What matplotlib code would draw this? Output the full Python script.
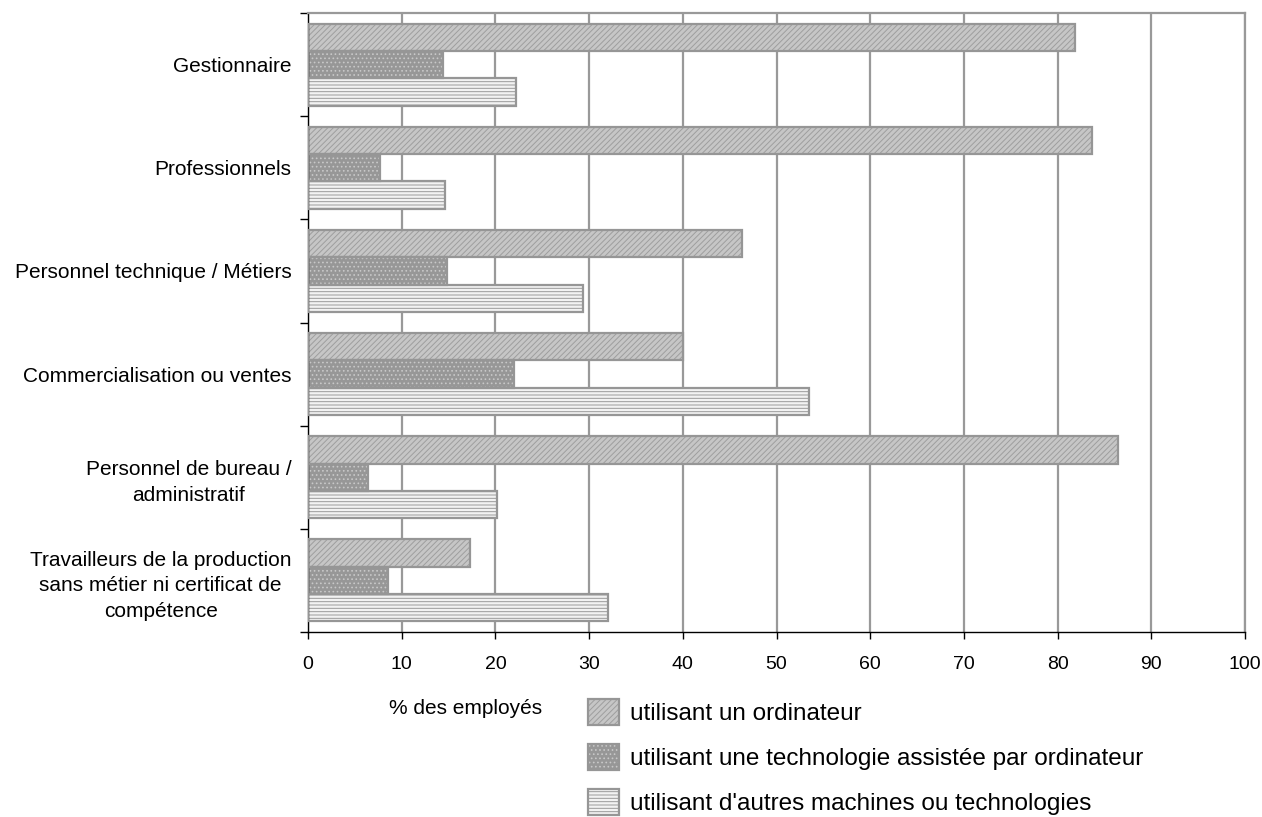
import matplotlib
matplotlib.use("Agg")
import matplotlib.pyplot as plt
from matplotlib.patches import Patch
import numpy as np

plt.rcParams['font.family'] = ['Liberation Sans', 'DejaVu Sans']
plt.rcParams['hatch.linewidth'] = 0.7

categories = [
    "Gestionnaire",
    "Professionnels",
    "Personnel technique / Métiers",
    "Commercialisation ou ventes",
    "Personnel de bureau /\nadministratif",
    "Travailleurs de la production\nsans métier ni certificat de\ncompétence",
]
ordinateur = [81.9, 83.7, 46.3, 40.0, 86.4, 17.3]
techno_assistee = [14.4, 7.7, 14.8, 22.0, 6.4, 8.5]
autres_machines = [22.2, 14.6, 29.4, 53.5, 20.2, 32.0]

series_labels = [
    "utilisant un ordinateur",
    "utilisant une technologie assistée par ordinateur",
    "utilisant d'autres machines ou technologies",
]
x_ticks = list(range(0, 101, 10))
x_label = "% des employés"

# fill, hatch pattern, hatch colour per series
styles = [
    ("#c6c6c6", "//////", "#9e9e9e"),
    ("#979797", "....", "#c8c8c8"),
    ("#f2f2f2", "-----", "#9a9a9a"),
]
edge = "#969696"
grid_c = "#999999"

fig = plt.figure(figsize=(12.62, 8.17), dpi=100)
W, H = 1262, 817
ax = fig.add_axes([308 / W, 1 - 632 / H, (1245 - 308) / W, (632 - 13) / H])

y = np.arange(len(categories))
h = 0.265
offsets = [-h, 0.0, h]
series = [ordinateur, techno_assistee, autres_machines]

ax.set_axisbelow(True)
for vals, off, (fc, hat, hc) in zip(series, offsets, styles):
    ax.barh(y + off, vals, height=h, color=fc, hatch=hat, edgecolor=hc,
            linewidth=0, zorder=2)
    ax.barh(y + off, vals, height=h, fill=False, edgecolor=edge,
            linewidth=1.6, zorder=3)

ax.set_xlim(0, 100)
ax.set_ylim(len(categories) - 0.5, -0.5)
ax.set_xticks(x_ticks)
ax.set_xticklabels([str(t) for t in x_ticks], fontsize=14)
ax.tick_params(axis='x', direction='out', length=5, width=1, pad=12, color='black')

ax.set_yticks(np.arange(-0.5, len(categories), 1.0))
ax.set_yticklabels([])
ax.tick_params(axis='y', which='major', direction='out', length=6, width=1, color='black')
ax.set_yticks(y, minor=True)
ax.set_yticklabels(categories, minor=True, fontsize=15, ha='right',
                   multialignment='center', linespacing=1.43)
ax.tick_params(axis='y', which='minor', length=0, pad=12)

ax.xaxis.grid(True, color=grid_c, linewidth=1.6)
ax.yaxis.grid(False)

for s in ("top", "right"):
    ax.spines[s].set_color(grid_c)
    ax.spines[s].set_linewidth(1.6)
for s in ("left", "bottom"):
    ax.spines[s].set_color("black")
    ax.spines[s].set_linewidth(1.0)

fig.text(466 / W, 1 - 708 / H, x_label, fontsize=15, ha='center', va='center')

handles = []
for fc, hat, hc in styles:
    handles.append((Patch(facecolor=fc, hatch=hat, edgecolor=hc, linewidth=0),
                    Patch(fill=False, edgecolor=edge, linewidth=1.6)))
fig.legend(handles, series_labels, loc='upper left',
           bbox_to_anchor=(583 / W, 1 - 694 / H), frameon=False,
           fontsize=17.5, handlelength=1.3, handleheight=1.3,
           handletextpad=0.45, labelspacing=0.76, borderpad=0.2,
           borderaxespad=0)

fig.savefig("out.png", dpi=100)
